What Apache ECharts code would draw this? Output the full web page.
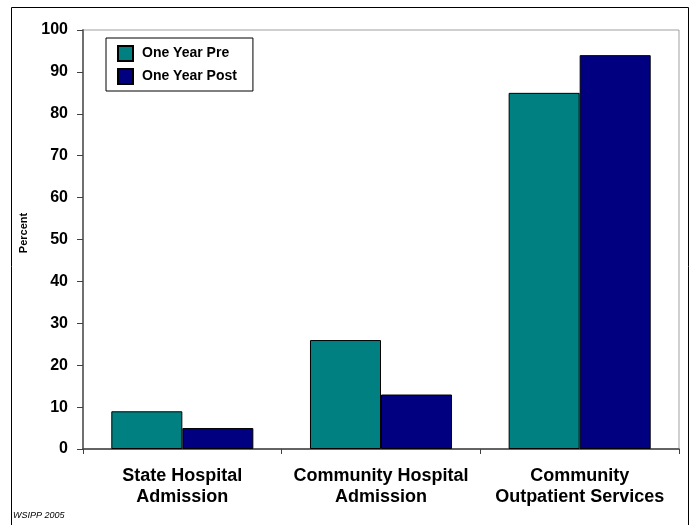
<!DOCTYPE html>
<html>
<head>
<meta charset="utf-8">
<script src="https://cdn.jsdelivr.net/npm/echarts@6/dist/echarts.min.js"></script>
<style>html,body{margin:0;padding:0;background:#fff}#c{width:695px;height:525px}</style>
</head>
<body>
<div id="c"></div>
<script>
var categories = ['State Hospital\nAdmission', 'Community Hospital\nAdmission', 'Community\nOutpatient Services'];
var seriesNames = ['One Year Pre', 'One Year Post'];
var preValues = [9, 26, 85];
var postValues = [5, 13, 94];
var colors = ['#008080', '#000080'];

var chart = echarts.init(document.getElementById('c'), null, {renderer: 'canvas'});
var font = 'Liberation Sans, Arial, sans-serif';
chart.setOption({
  animation: false,
  backgroundColor: '#fff',
  textStyle: {fontFamily: font},
  graphic: [
    {type: 'rect', shape: {x: 11.5, y: 7.5, width: 677, height: 540}, style: {fill: 'none', stroke: '#000', lineWidth: 1}, z: 0},
    {type: 'text', left: 13, top: 511, style: {text: 'WSIPP 2005', font: 'italic 9px ' + font, fill: '#000'}},
    {type: 'text', x: 24, y: 233, rotation: Math.PI / 2, style: {text: 'Percent', font: 'bold 11px ' + font, fill: '#000', align: 'center', verticalAlign: 'middle'}}
  ],
  legend: {
    orient: 'vertical', left: 106, top: 38,
    data: seriesNames,
    itemWidth: 15, itemHeight: 15, itemGap: 6,
    padding: [7, 16, 6, 11],
    borderColor: '#000', borderWidth: 1,
    backgroundColor: '#fff',
    textStyle: {fontFamily: font, fontSize: 14, fontWeight: 'bold', color: '#000', padding: [0, 0, 0, 4]},
    icon: 'rect'
  },
  grid: {left: 83, right: 16, top: 30, bottom: 76, show: true, borderColor: '#a0a0a0', borderWidth: 1, backgroundColor: 'transparent'},
  xAxis: {
    type: 'category', data: categories,
    axisLine: {lineStyle: {color: '#404040', width: 1.5}},
    axisTick: {show: true, length: 5, lineStyle: {color: '#404040'}},
    axisLabel: {fontFamily: font, fontSize: 18, fontWeight: 'bold', color: '#000', margin: 17, lineHeight: 21, interval: 0}
  },
  yAxis: {
    type: 'value', min: 0, max: 100, interval: 10,
    axisLine: {show: true, lineStyle: {color: '#707070', width: 2}},
    axisTick: {show: true, length: 6, lineStyle: {color: '#404040'}},
    splitLine: {show: false},
    axisLabel: {fontFamily: font, fontSize: 16, fontWeight: 'bold', color: '#000', margin: 15}
  },
  series: [
    {name: seriesNames[0], type: 'bar', data: preValues, barGap: '0%', barCategoryGap: '28.5%',
     itemStyle: {color: colors[0], borderColor: '#000', borderWidth: 1}},
    {name: seriesNames[1], type: 'bar', data: postValues, barGap: '0%', barCategoryGap: '28.5%',
     itemStyle: {color: colors[1], borderColor: '#000', borderWidth: 1}}
  ]
});
</script>
</body>
</html>
